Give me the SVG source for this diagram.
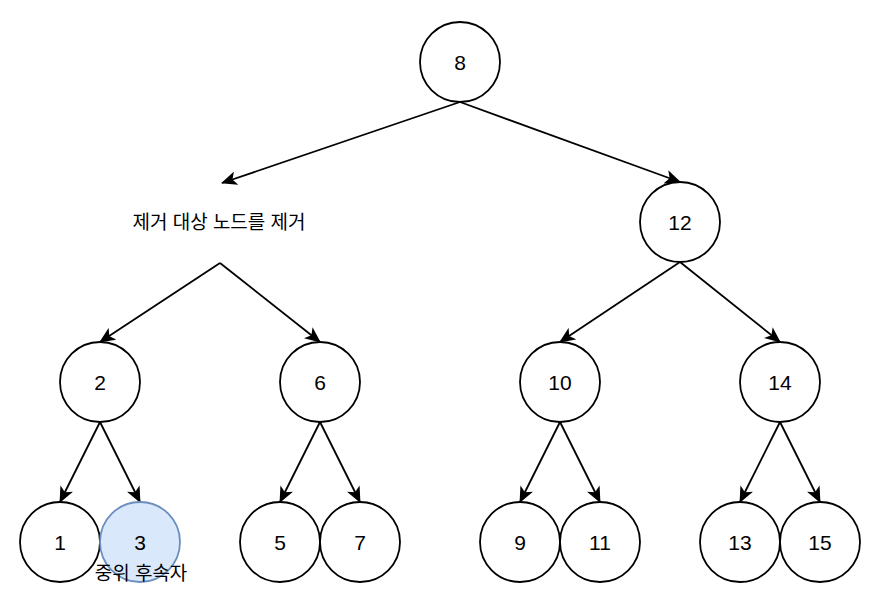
<svg xmlns="http://www.w3.org/2000/svg" width="886" height="608" viewBox="0 0 886 608">
<defs>
<style>
.n circle{fill:#ffffff;stroke:#000000;stroke-width:1.8}
.n.hl circle{fill:#dae8fc;stroke:#6c8ebf}
.n text{font-family:"Liberation Sans",Arial,sans-serif;font-size:21px;fill:#000;text-anchor:middle;dominant-baseline:central}
.lbl{font-family:"Liberation Sans","Noto Sans CJK KR",sans-serif;font-size:19px;fill:#000;text-anchor:middle;dominant-baseline:central}
.e path{fill:none;stroke:#000;stroke-width:1.8;marker-end:url(#arr)}
</style>
<marker id="arr" markerUnits="userSpaceOnUse" viewBox="0 0 16 14" refX="15" refY="7" markerWidth="16" markerHeight="14" orient="auto">
<path d="M0,0 L16,7 L0,14 L4,7 Z" fill="#000"/>
</marker>
</defs>
<rect width="886" height="608" fill="#ffffff"/>
<g id="connectors" class="e">
<path d="M460,102 L222,183"/>
<path d="M460,102 L680,182"/>
<path d="M220,263 L100,342"/>
<path d="M220,263 L320,342"/>
<path d="M680,262 L560,342"/>
<path d="M680,262 L780,342"/>
<path d="M100,422 L60,502"/>
<path d="M100,422 L140,502"/>
<path d="M320,422 L280,502"/>
<path d="M320,422 L360,502"/>
<path d="M560,422 L520,502"/>
<path d="M560,422 L600,502"/>
<path d="M780,422 L740,502"/>
<path d="M780,422 L820,502"/>
</g>
<g id="removed-label"><text class="lbl" x="219" y="222">제거 대상 노드를 제거</text></g>
<g id="node-8" class="n"><circle cx="460" cy="62" r="40"/><text x="460" y="62">8</text></g>
<g id="node-12" class="n"><circle cx="680" cy="222" r="40"/><text x="680" y="222">12</text></g>
<g id="node-2" class="n"><circle cx="100" cy="382" r="40"/><text x="100" y="382">2</text></g>
<g id="node-6" class="n"><circle cx="320" cy="382" r="40"/><text x="320" y="382">6</text></g>
<g id="node-10" class="n"><circle cx="560" cy="382" r="40"/><text x="560" y="382">10</text></g>
<g id="node-14" class="n"><circle cx="780" cy="382" r="40"/><text x="780" y="382">14</text></g>
<g id="node-1" class="n"><circle cx="60" cy="542" r="40"/><text x="60" y="542">1</text></g>
<g id="node-3" class="n hl"><circle cx="140" cy="542" r="40"/><text x="140" y="542">3</text></g>
<g id="node-5" class="n"><circle cx="280" cy="542" r="40"/><text x="280" y="542">5</text></g>
<g id="node-7" class="n"><circle cx="360" cy="542" r="40"/><text x="360" y="542">7</text></g>
<g id="node-9" class="n"><circle cx="520" cy="542" r="40"/><text x="520" y="542">9</text></g>
<g id="node-11" class="n"><circle cx="600" cy="542" r="40"/><text x="600" y="542">11</text></g>
<g id="node-13" class="n"><circle cx="740" cy="542" r="40"/><text x="740" y="542">13</text></g>
<g id="node-15" class="n"><circle cx="820" cy="542" r="40"/><text x="820" y="542">15</text></g>
<g id="successor-label"><text class="lbl" x="141" y="573">중위 후속자</text></g>
</svg>
